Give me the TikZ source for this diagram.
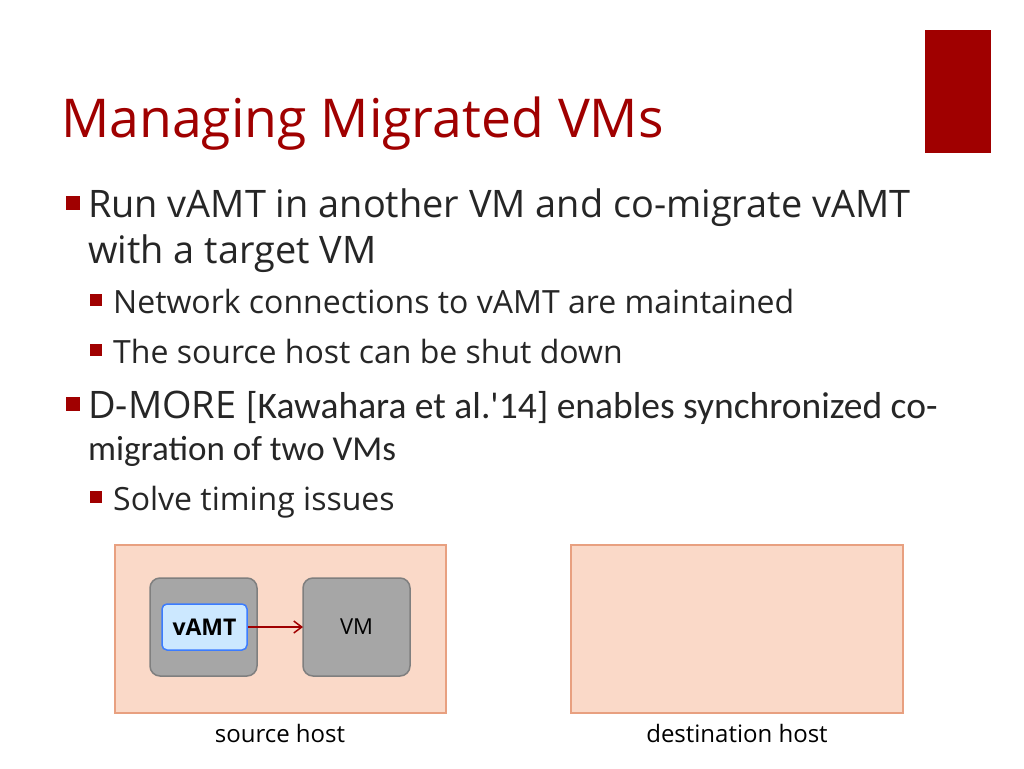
\documentclass[tikz,border=0pt]{standalone}
\usepackage{fontspec}
\setmainfont{Open Sans}
\newfontfamily\carfont{Carlito}
\usetikzlibrary{arrows.meta}
\definecolor{dred}{HTML}{A00000}
\definecolor{hostfill}{HTML}{FAD9C8}
\definecolor{hostline}{HTML}{E8A080}
\definecolor{vmfill}{HTML}{A6A6A6}
\definecolor{vmline}{HTML}{7F7F7F}
\definecolor{afill}{HTML}{CCE8FF}
\definecolor{aline}{HTML}{3B7CFF}
\begin{document}
\begin{tikzpicture}[x=1pt,y=-1pt,
  txt/.style={anchor=base west,inner sep=0pt,text=black!85},
  bl/.style={fill=dred},
  host/.style={draw=hostline,fill=hostfill,line width=1.5pt},
  vm/.style={draw=vmline,fill=vmfill,line width=1.5pt,rounded corners=10pt},
  lab/.style={anchor=base,inner sep=0pt,font=\fontsize{24}{28}\selectfont}]
\useasboundingbox[fill=white] (0,0) rectangle (1024,768);
\fill[dred] (925,30) rectangle (991,153);
\node[anchor=base west,inner sep=0pt,text=dred,font=\fontsize{53.5}{60}\selectfont] (title) at (61,137) {Managing Migrated VMs};
\fill[bl] (66,196) rectangle (80,210);
\node[txt,font=\fontsize{37.9}{40}\selectfont] (b1) at (88,217) {Run vAMT in another VM and co-migrate vAMT};
\node[txt,font=\fontsize{37.9}{40}\selectfont] (b1b) at (88,263) {with a target VM};
\fill[bl] (90,294) rectangle (102,306);
\node[txt,font=\fontsize{32}{34}\selectfont] (s1) at (113,313) {Network connections to vAMT are maintained};
\fill[bl] (90,344) rectangle (102,356);
\node[txt,font=\fontsize{32}{34}\selectfont] (s2) at (113,363) {The source host can be shut down};
\fill[bl] (66,397) rectangle (80,411);
\node[txt,font=\fontsize{37.9}{40}\selectfont] (b2) at (88,418) {D-MORE {\carfont\fontsize{37.5}{38}\selectfont[Kawahara et al.'14] enables synchronized co-}};
\node[txt,font=\carfont\fontsize{35}{38}\selectfont] (b2b) at (88,460) {migration of two VMs};
\fill[bl] (90,491) rectangle (102,503);
\node[txt,font=\fontsize{32}{34}\selectfont] (s3) at (113,510) {Solve timing issues};
\draw[host] (115,545) rectangle (446,713);
\draw[host] (571,545) rectangle (903,713);
\draw[vm] (150,578) rectangle (257,676);
\draw[vm] (303,578) rectangle (410,676);
\node[draw=aline,fill=afill,line width=1.5pt,rounded corners=5pt,minimum width=85pt,minimum height=46pt,inner sep=0pt,font=\bfseries\fontsize{23}{26}\selectfont] (vamt) at (204.5,627) {vAMT};
\node[inner sep=0pt,font=\fontsize{22}{26}\selectfont] (vm) at (356.5,627) {VM};
\coordinate (vmw) at (303,627);
\draw[dred,line width=1.5pt,-{Straight Barb[length=8pt,width=12pt]}] (vamt.east) -- (vmw);
\node[lab] (src) at (280,742) {source host};
\node[lab] (dst) at (737,742) {destination host};
\end{tikzpicture}
\end{document}
